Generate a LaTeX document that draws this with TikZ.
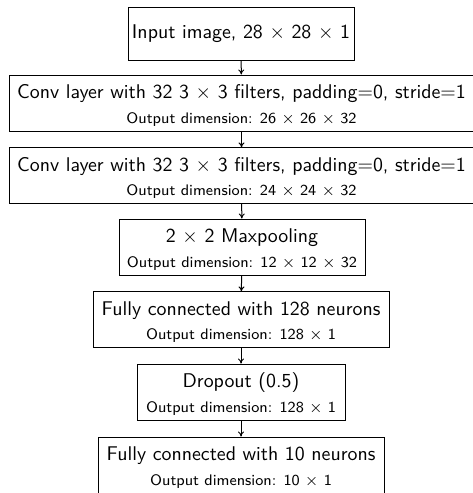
\documentclass[tikz,border=0pt]{standalone}
\usetikzlibrary{arrows.meta}
\newcommand{\sk}{1.986}
\newcommand{\oneline}[1]{\scalebox{\sk}{#1}}
\newcommand{\twoline}[2]{\scalebox{\sk}{\begin{tabular}{@{}c@{}}\rule{0pt}{11.8pt}#1\\[0.4pt]\fontsize{7.7}{9.2}\selectfont #2\end{tabular}}}
\begin{document}
\begin{tikzpicture}[x=1pt,y=-1pt,
  layer/.style={draw, line width=1pt, align=center, inner sep=0pt,
    font=\sffamily},
  conn/.style={-{To[length=5pt,width=6pt]}, line width=1pt}]
\useasboundingbox (0,0) rectangle (472,493);
\node[layer, minimum width=226pt, minimum height=53pt] (n1) at (241,33.5)
  {\oneline{Input image, 28 $\times$ 28 $\times$ 1}};
\node[layer, minimum width=465pt, minimum height=56pt] (n2) at (241.5,103)
  {\twoline{Conv layer with 32 3 $\times$ 3 filters, padding$=$0, stride$=$1}{Output dimension: 26 $\times$ 26 $\times$ 32}};
\node[layer, minimum width=465pt, minimum height=55pt] (n3) at (241.5,175.5)
  {\twoline{Conv layer with 32 3 $\times$ 3 filters, padding$=$0, stride$=$1}{Output dimension: 24 $\times$ 24 $\times$ 32}};
\node[layer, minimum width=246pt, minimum height=56pt] (n4) at (242,247)
  {\twoline{2 $\times$ 2 Maxpooling}{Output dimension: 12 $\times$ 12 $\times$ 32}};
\node[layer, minimum width=296pt, minimum height=55pt] (n5) at (241,319.5)
  {\twoline{Fully connected with 128 neurons}{Output dimension: 128 $\times$ 1}};
\node[layer, minimum width=208pt, minimum height=56pt] (n6) at (241,392)
  {\twoline{Dropout (0.5)}{Output dimension: 128 $\times$ 1}};
\node[layer, minimum width=286pt, minimum height=56pt] (n7) at (241,465)
  {\twoline{Fully connected with 10 neurons}{Output dimension: 10 $\times$ 1}};
\draw[conn] (n1) -- (n2);
\draw[conn] (n2) -- (n3);
\draw[conn] (n3) -- (n4);
\draw[conn] (n4) -- (n5);
\draw[conn] (n5) -- (n6);
\draw[conn] (n6) -- (n7);
\end{tikzpicture}
\end{document}
